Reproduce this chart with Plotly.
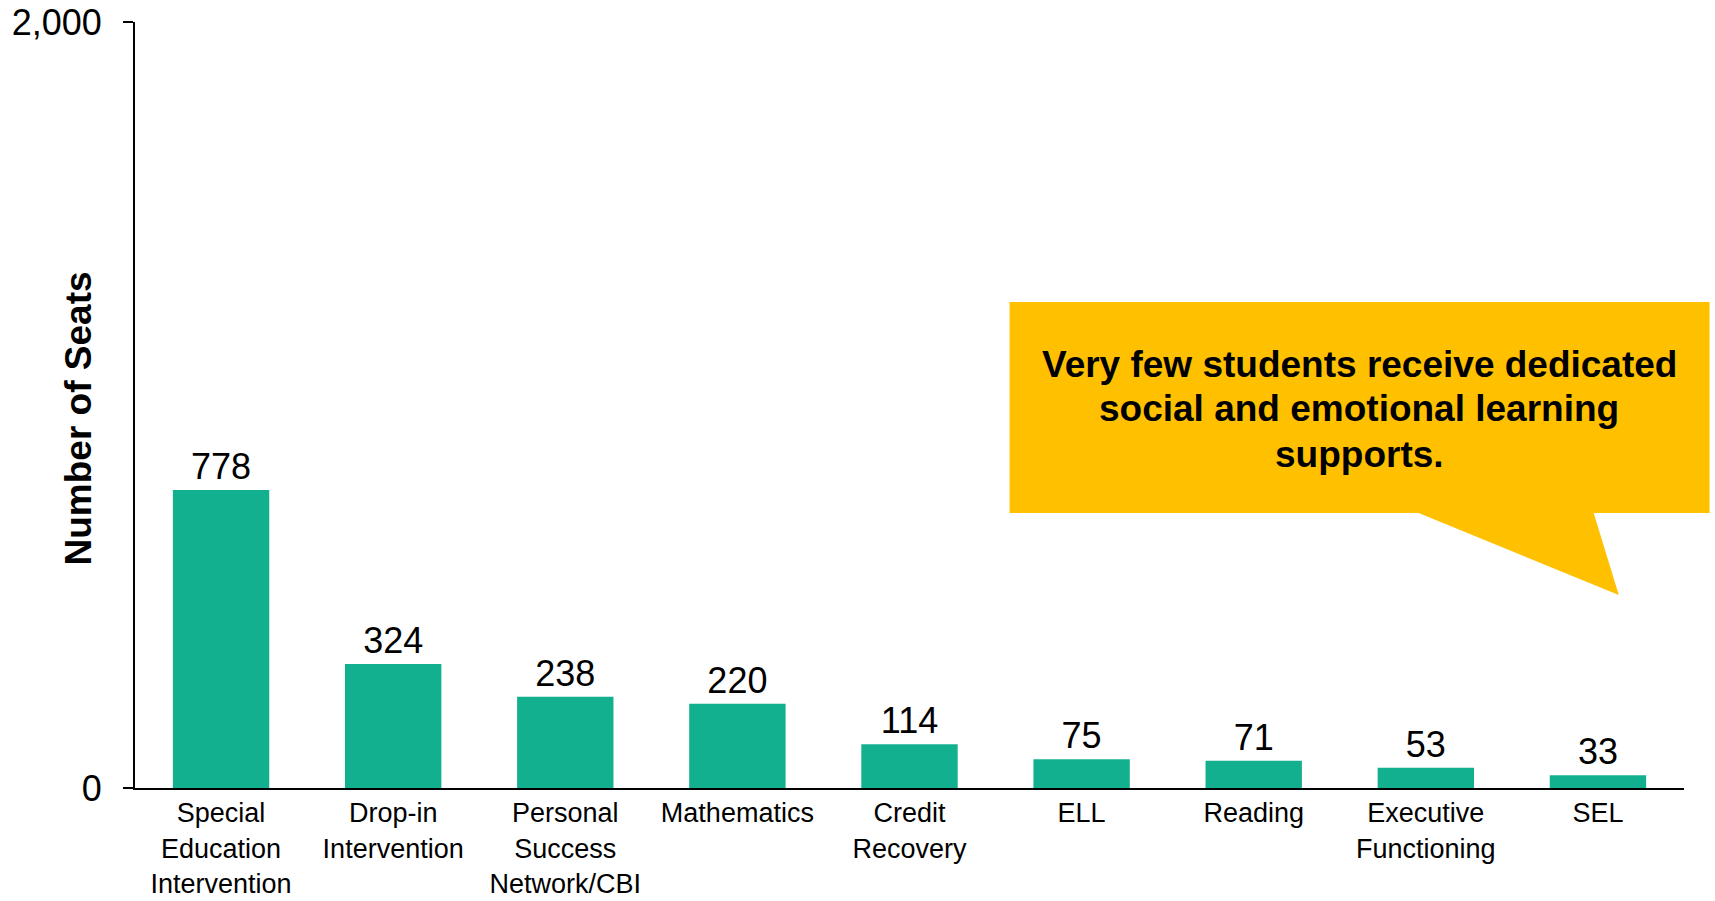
import plotly.graph_objects as go

categories = [
    "Special<br>Education<br>Intervention",
    "Drop-in<br>Intervention",
    "Personal<br>Success<br>Network/CBI",
    "Mathematics",
    "Credit<br>Recovery",
    "ELL",
    "Reading",
    "Executive<br>Functioning",
    "SEL",
]
seats = [778, 324, 238, 220, 114, 75, 71, 53, 33]
y_ticks = [0, 2000]
y_tick_labels = ["0", "2,000"]
callout_lines = [
    "Very few students receive dedicated",
    "social and emotional learning",
    "supports.",
]

FONT = "Arial, Liberation Sans, sans-serif"
TEAL = "#12B08F"
GOLD = "#FFC000"

fig = go.Figure(
    go.Bar(
        x=categories,
        y=seats,
        marker=dict(color=TEAL, line=dict(width=0)),
        text=[str(v) for v in seats],
        textposition="outside",
        textfont=dict(family=FONT, size=36, color="black"),
        cliponaxis=False,
        width=0.56,
    )
)

# speech-bubble callout (box plus pointer) in paper coordinates
fig.add_shape(
    type="path",
    xref="paper", yref="paper",
    path=("M 0.5646 0.6345 L 1.0165 0.6345 L 1.0165 0.359 "
          "L 0.9417 0.359 L 0.9579 0.252 L 0.8287 0.359 "
          "L 0.5646 0.359 Z"),
    fillcolor=GOLD,
    line=dict(width=0),
    layer="above",
)
# callout text, one annotation per line for tighter line spacing
line_y = [0.5535, 0.4948, 0.4360]
for txt, yy in zip(callout_lines, line_y):
    fig.add_annotation(
        xref="paper", yref="paper",
        x=0.7904, y=yy,
        text="<b>" + txt + "</b>",
        showarrow=False,
        font=dict(family=FONT, size=37, color="black"),
        xanchor="center", yanchor="middle",
    )

# rotated y-axis title
fig.add_annotation(
    xref="paper", yref="paper",
    x=-0.0365, y=0.483,
    text="<b>Number of Seats</b>",
    textangle=-90,
    showarrow=False,
    font=dict(family=FONT, size=37, color="black"),
    xanchor="center", yanchor="middle",
)

fig.update_layout(
    width=1715,
    height=901,
    margin=dict(l=135, r=31, t=22, b=113),
    plot_bgcolor="white",
    paper_bgcolor="white",
    showlegend=False,
    font=dict(family=FONT, color="black"),
)
fig.update_xaxes(
    automargin=False,
    showline=True,
    linecolor="black",
    linewidth=2,
    showgrid=False,
    ticks="",
    tickfont=dict(family=FONT, size=27, color="black"),
    ticklabelstandoff=0,
    range=[-0.5, 8.5],
)
fig.update_yaxes(
    automargin=False,
    range=[0, 2000],
    tickvals=y_ticks,
    ticktext=y_tick_labels,
    showline=True,
    linecolor="black",
    linewidth=2,
    ticks="outside",
    ticklen=10,
    tickwidth=2,
    tickcolor="black",
    showgrid=False,
    zeroline=False,
    tickfont=dict(family=FONT, size=36, color="black"),
    ticklabelstandoff=14,
)

fig.write_html("out.html")
